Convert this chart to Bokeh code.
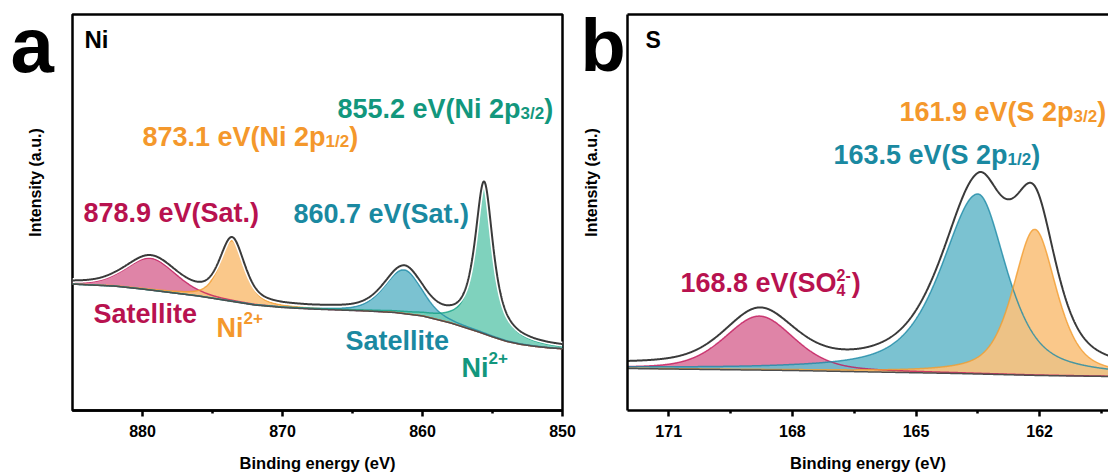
import numpy as np
from bokeh.plotting import figure
from bokeh.layouts import row
from bokeh.models import Range1d, FixedTicker, Label, LinearAxis
from bokeh.embed import file_html
from bokeh.resources import INLINE

FONT = "Liberation Sans"

# ---------------- Panel a : Ni 2p ----------------
ni_ticks = [880, 870, 860, 850]
ni_minor = [875, 865, 855]
ni_bg_ev = [885, 882, 880, 878, 876, 874, 872, 870, 868, 866, 864, 862, 860, 858, 857, 856, 855, 854, 853, 852, 851, 850]
ni_bg_int = [127, 125, 122, 118.5, 115, 110.5, 106, 103.5, 102, 101, 100, 98.5, 95, 88, 83.5, 79, 74, 69.5, 66.5, 64.5, 63, 62]
ni_names = ["878.9 eV(Sat.)", "873.1 eV(Ni 2p1/2)", "860.7 eV(Sat.)", "855.2 eV(Ni 2p3/2)"]
ni_centers = [879.4, 873.6, 861.3, 855.6]
ni_heights = [32, 61, 44, 150]
ni_fwhm_hi = [4.2, 2.1, 3.3, 1.55]   # width on the high-energy (left) side
ni_fwhm_lo = [4.2, 2.1, 3.0, 1.55]   # width on the low-energy (right) side
ni_eta = [0.3, 0.5, 0.35, 0.85]
ni_env_offset = 2.0

# ---------------- Panel b : S 2p ----------------
s_ticks = [171, 168, 165, 162]
s_minor = [169.5, 166.5, 163.5, 160.5]
s_bg_ev = [172, 170, 168, 166, 164, 162, 160.3]
s_bg_int = [42, 41, 40, 38.5, 37, 35, 34]
s_names = ["168.8 eV(SO4 2-)", "163.5 eV(S 2p1/2)", "161.9 eV(S 2p3/2)"]
s_centers = [168.8, 163.5, 162.12]
s_heights = [54, 180, 146]
s_fwhm_hi = [2.0, 2.1, 1.25]
s_fwhm_lo = [2.0, 1.64, 1.25]
s_eta = [0.4, 0.65, 0.6]
s_env_offset = 3.5

# colours (line, fill, text)
PINK = ("#c2185b", "#db779d", "#b8124f")
ORANGE = ("#f39c2e", "#fac27d", "#f4982c")
BLUE = ("#1d8aa6", "#6dbbcc", "#1a89a1")
GREEN = ("#14a084", "#71cdb6", "#12977d")

W = {'0': 556, '1': 556, '2': 556, '3': 556, '4': 556, '5': 556, '6': 556, '7': 556, '8': 556, '9': 556,
     '.': 278, ' ': 278, 'e': 556, 'V': 667, '(': 333, ')': 333, 'N': 722, 'i': 278, 'p': 611,
     'S': 667, 'O': 778, 'a': 556, 't': 333, 'l': 278, '/': 278, '+': 584, '-': 333}


def tw(s, size):
    return sum(W.get(c, 556) for c in s) / 1000.0 * size


def spv(x, c, h, w_hi, w_lo, eta):
    w = np.where(x > c, w_hi, w_lo)
    d = (x - c) / w
    return h * (eta / (1 + 4 * d * d) + (1 - eta) * np.exp(-4 * np.log(2) * d * d))


def rich(p, conv, x0, y0, parts, color):
    # parts: (text, size, dy, advance) ; advance None -> text width
    x = x0
    for text, size, dy, adv in parts:
        X, Y = conv(x, y0 + dy)
        p.add_layout(Label(x=X, y=Y, text=text, text_font=FONT, text_font_size=f"{size}px",
                           text_font_style="bold", text_color=color, text_align="left",
                           text_baseline="alphabetic"))
        x += tw(text, size) if adv is None else adv


def style_xaxis(ax, ticks, minor):
    ax.ticker = FixedTicker(ticks=ticks, minor_ticks=minor)
    ax.major_tick_out = 6
    ax.major_tick_in = 0
    ax.minor_tick_out = 3
    ax.minor_tick_in = 0
    ax.major_tick_line_width = 2.5
    ax.minor_tick_line_width = 2.5
    ax.axis_line_width = 2.5
    ax.major_tick_line_color = "black"
    ax.minor_tick_line_color = "black"
    ax.axis_line_color = "black"
    ax.major_label_text_font = FONT
    ax.major_label_text_font_style = "bold"
    ax.major_label_text_font_size = "16px"
    ax.major_label_text_color = "black"
    ax.major_label_standoff = 8
    ax.axis_label = "Binding energy (eV)"
    ax.axis_label_text_font = FONT
    ax.axis_label_text_font_style = "bold"
    ax.axis_label_text_font_size = "16.5px"
    ax.axis_label_text_color = "black"
    ax.axis_label_standoff = 14


def draw_panel(p, xs, bg, comps, env):
    tops = []
    for (vals, col) in comps:
        top = bg + vals
        tops.append(top)
        p.varea(x=xs, y1=bg, y2=top, fill_color=col[1], fill_alpha=0.9)
    for top, (vals, col) in zip(tops, comps):
        p.line(xs, top, line_color=col[0], line_width=1.5, line_alpha=0.8)
    p.line(xs, bg, line_color="#4d4d4d", line_width=1.5)
    p.line(xs, env, line_color="white", line_width=5)
    p.line(xs, env, line_color="#3a3a3a", line_width=2)


def side_figure(width, fill_labels):
    # a narrow figure whose frame is the whole strip (coordinates = page pixels)
    f = figure(width=width, height=475, x_range=Range1d(0, width), y_range=Range1d(475, 0),
               output_backend="svg", toolbar_location=None,
               min_border_left=0, min_border_right=0, min_border_top=0, min_border_bottom=0)
    f.axis.visible = False
    f.grid.visible = False
    f.outline_line_color = None
    for lab in fill_labels:
        f.add_layout(lab)
    return f


S = 27
SS = 17

# ---------- strip left of panel a (letter + y title) ----------
strip_a = side_figure(70, [
    Label(x=10, y=37, text="a", text_font=FONT, text_font_size="78px", text_font_style="bold",
          text_color="black", text_align="left", text_baseline="alphabetic"),
    Label(x=35, y=201.5, text="Intensity (a.u.)", angle=np.pi / 2, text_font=FONT, text_font_size="16px",
          text_font_style="bold", text_color="black", text_align="center", text_baseline="middle"),
])

# ---------- figure a ----------
pa = figure(width=510, height=475, x_range=Range1d(885, 850), y_range=Range1d(0, 398),
            output_backend="svg", toolbar_location=None,
            min_border_left=2, min_border_right=18, min_border_top=14, min_border_bottom=63)
pa.grid.visible = False
pa.yaxis.visible = False
pa.outline_line_color = "black"
pa.outline_line_width = 2.5
style_xaxis(pa.xaxis[0], ni_ticks, ni_minor)

xa = np.linspace(885, 850, 1401)
bga = np.interp(xa, ni_bg_ev[::-1], ni_bg_int[::-1])
cols_a = [PINK, ORANGE, BLUE, GREEN]
vals_a = [spv(xa, c, h, wh, wl, e) for c, h, wh, wl, e in
          zip(ni_centers, ni_heights, ni_fwhm_hi, ni_fwhm_lo, ni_eta)]
env_a = bga + np.sum(vals_a, axis=0) + ni_env_offset
draw_panel(pa, xa, bga, list(zip(vals_a, cols_a)), env_a)


def conv_a(px, py):
    return 885 - (px - 72) / 14.0, 412 - py


rich(pa, conv_a, 83, 213, [("878.9 eV(Sat.)", S, 0, None)], PINK[2])
rich(pa, conv_a, 293, 215, [("860.7 eV(Sat.)", S, 0, None)], BLUE[2])
rich(pa, conv_a, 142, 137, [("873.1 eV(Ni 2p", S, 0, None), ("1/2", SS, 5, None), (")", S, 0, None)], ORANGE[2])
rich(pa, conv_a, 337, 109, [("855.2 eV(Ni 2p", S, 0, None), ("3/2", SS, 5, None), (")", S, 0, None)], GREEN[2])
rich(pa, conv_a, 93, 315, [("Satellite", S, 0, None)], PINK[2])
rich(pa, conv_a, 216, 329, [("Ni", S, 0, None), ("2+", SS, -10, None)], ORANGE[2])
rich(pa, conv_a, 345, 342, [("Satellite", S, 0, None)], BLUE[2])
rich(pa, conv_a, 461, 369, [("Ni", S, 0, None), ("2+", SS, -10, None)], GREEN[2])
rich(pa, conv_a, 84, 39, [("Ni", 24, 0, None)], "black")

# ---------- strip left of panel b ----------
strip_b = side_figure(46, [
    Label(x=0, y=37, text="b", text_font=FONT, text_font_size="74px", text_font_style="bold",
          text_color="black", text_align="left", text_baseline="alphabetic"),
    Label(x=11, y=201.5, text="Intensity (a.u.)", angle=np.pi / 2, text_font=FONT, text_font_size="16px",
          text_font_style="bold", text_color="black", text_align="center", text_baseline="middle"),
])

# ---------- figure b ----------
pb = figure(width=482, height=475, x_range=Range1d(172, 160.33), y_range=Range1d(0, 396),
            output_backend="svg", toolbar_location=None,
            min_border_left=1, min_border_right=0, min_border_top=14, min_border_bottom=65)
pb.grid.visible = False
pb.outline_line_color = None
style_xaxis(pb.xaxis[0], s_ticks, s_minor)
ya = pb.yaxis[0]
ya.ticker = FixedTicker(ticks=[])
ya.major_label_text_font_size = "0px"
ya.major_label_standoff = 0
ya.major_tick_out = 0
ya.minor_tick_out = 0
ya.major_tick_line_color = None
ya.minor_tick_line_color = None
ya.axis_line_width = 2.5
ya.axis_line_color = "black"
top_ax = LinearAxis(ticker=FixedTicker(ticks=[]), major_label_text_font_size="0px", major_label_standoff=0,
                    axis_line_width=2.5, axis_line_color="black", major_tick_out=0, minor_tick_out=0,
                    major_tick_line_color=None, minor_tick_line_color=None)
pb.add_layout(top_ax, "above")

xb = np.linspace(172, 160.33, 1401)
bgb = np.interp(xb, s_bg_ev[::-1], s_bg_int[::-1])
cols_b = [PINK, BLUE, ORANGE]
vals_b = [spv(xb, c, h, wh, wl, e) for c, h, wh, wl, e in
          zip(s_centers, s_heights, s_fwhm_hi, s_fwhm_lo, s_eta)]
env_b = bgb + np.sum(vals_b, axis=0) + s_env_offset
draw_panel(pb, xb, bgb, list(zip(vals_b, cols_b)), env_b)


def conv_b(px, py):
    return 172 - (px - 627) / 41.22, 410 - py


rich(pb, conv_b, 680, 282, [("168.8 eV(SO", S, 0, None), ("2-", 16, -8, 0), ("4", 16, 7, tw("2-", 16) + 1),
                            (")", S, 0, None)], PINK[2])
rich(pb, conv_b, 833, 154, [("163.5 eV(S 2p", S, 0, None), ("1/2", SS, 5, None), (")", S, 0, None)], BLUE[2])
rich(pb, conv_b, 899, 111, [("161.9 eV(S 2p", S, 0, None), ("3/2", SS, 5, None), (")", S, 0, None)], ORANGE[2])
rich(pb, conv_b, 645, 39, [("S", 23, 0, None)], "black")

layout = row(strip_a, pa, strip_b, pb, spacing=0)
open("out.html", "w").write(file_html(layout, INLINE))
